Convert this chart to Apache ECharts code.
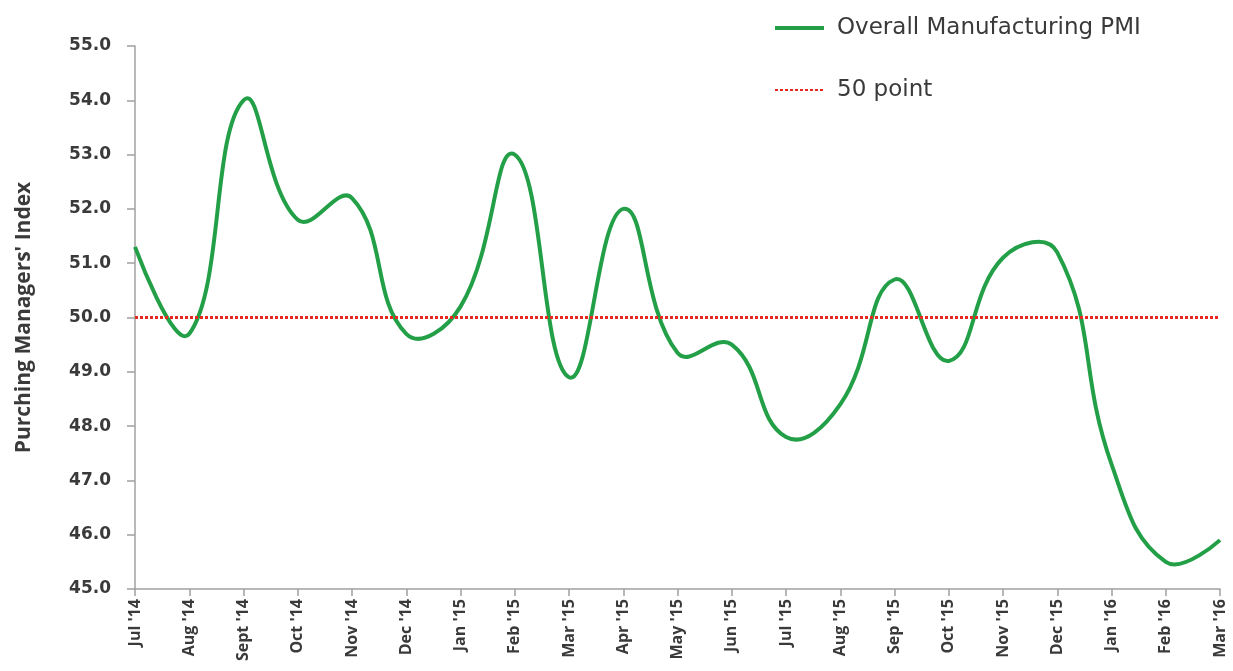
<!DOCTYPE html>
<html>
<head>
<meta charset="utf-8">
<script src="https://cdn.jsdelivr.net/npm/echarts@6/dist/echarts.min.js"></script>
<style>
  html, body { margin: 0; padding: 0; background: #fff; }
  #chart { width: 1233px; height: 671px; }
</style>
</head>
<body>
<div id="chart"></div>
<script>
// PMI monthly readings, Jul '14 .. Mar '16
var months = [
  "Jul '14", "Aug '14", "Sept '14", "Oct '14", "Nov '14", "Dec '14",
  "Jan '15", "Feb '15", "Mar '15", "Apr '15", "May '15", "Jun '15",
  "Jul '15", "Aug '15", "Sep '15", "Oct '15", "Nov '15", "Dec '15",
  "Jan '16", "Feb '16", "Mar '16"
];
var pmiValues = [
  51.3, 49.7, 54.0, 51.8, 52.2, 49.7,
  50.2, 53.0, 48.9, 52.0, 49.35, 49.5,
  47.8, 48.4, 50.7, 49.2, 51.1, 51.2,
  47.3, 45.5, 45.9
];
var threshold = 50;   // the "50 point" reference line
var yTicks = { min: 45, max: 55, step: 1 };

var GREEN = '#23a047';
var RED = '#e8281e';
var TEXT = '#3a3a3a';
var AXIS = '#a0a0a0';

var chart = echarts.init(document.getElementById('chart'), null, { renderer: 'canvas' });

// Excel-style smoothed line: a polyline through every data point,
// positioned with the chart's own coordinate system.
function renderPmiLine(params, api) {
  if (params.dataIndexInside !== 0) return null;
  var pts = [];
  for (var i = 0; i < pmiValues.length; i++) {
    pts.push(api.coord([api.value(0, i), api.value(1, i)]));
  }
  return {
    type: 'polyline',
    shape: { points: pts, smooth: 0.45 },
    style: { stroke: GREEN, lineWidth: 4, fill: null, lineJoin: 'round' },
    silent: true
  };
}

chart.setOption({
  animation: false,
  backgroundColor: '#ffffff',
  grid: { left: 135, right: 13, top: 46, bottom: 82 },
  legend: {
    orient: 'vertical',
    left: 774,
    top: 14,
    padding: 0,
    itemWidth: 49,
    itemHeight: 4,
    itemGap: 34,
    itemStyle: { opacity: 0 },
    textStyle: {
      fontFamily: 'DejaVu Sans',
      fontSize: 23,
      lineHeight: 28,
      color: TEXT,
      padding: [0, 0, 0, 8]
    },
    data: [
      { name: 'Overall Manufacturing PMI', icon: 'rect', itemStyle: { opacity: 1 } },
      { name: '50 point' }
    ]
  },
  xAxis: {
    type: 'category',
    data: months,
    boundaryGap: false,
    axisLine: { lineStyle: { color: AXIS, width: 1.5 } },
    axisTick: { show: true, length: 7, lineStyle: { color: AXIS, width: 1.5 } },
    axisLabel: {
      rotate: 90,
      interval: 0,
      margin: 10,
      fontFamily: 'Open Sans',
      fontWeight: 'bold',
      fontSize: 16,
      color: TEXT
    },
    splitLine: { show: false }
  },
  yAxis: {
    type: 'value',
    min: yTicks.min,
    max: yTicks.max,
    interval: yTicks.step,
    name: "Purching Managers' Index",
    nameLocation: 'middle',
    nameGap: 100,
    nameRotate: 90,
    nameTextStyle: {
      fontFamily: 'Open Sans',
      fontWeight: 'bold',
      fontSize: 21,
      color: TEXT
    },
    axisLine: { show: true, lineStyle: { color: AXIS, width: 1.5 } },
    axisTick: { show: true, length: 8, lineStyle: { color: AXIS, width: 1.5 } },
    axisLabel: {
      margin: 24,
      fontFamily: 'DejaVu Sans',
      fontWeight: 'bold',
      fontSize: 17,
      color: TEXT,
      formatter: function (v) { return v.toFixed(1); }
    },
    splitLine: { show: false }
  },
  series: [
    {
      name: 'Overall Manufacturing PMI',
      type: 'custom',
      data: pmiValues.map(function (v, i) { return [i, v]; }),
      encode: { x: 0, y: 1 },
      renderItem: renderPmiLine,
      clip: false,
      itemStyle: { color: GREEN },
      z: 3
    },
    {
      name: '50 point',
      type: 'line',
      data: [],
      symbol: 'none',
      color: RED,
      lineStyle: { color: RED, width: 3, type: [3, 2] },
      markLine: {
        silent: true,
        symbol: 'none',
        label: { show: false },
        lineStyle: { color: RED, width: 3, type: [3, 2] },
        data: [{ yAxis: threshold }]
      },
      z: 2
    }
  ]
});
</script>
</body>
</html>
